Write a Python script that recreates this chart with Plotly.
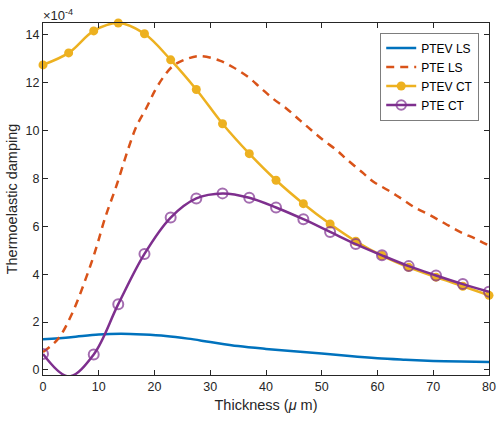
import plotly.graph_objects as go

# ---- data (values in units of 1e-4) ----
ls_x = [0, 5, 10, 14, 18, 22, 26, 30, 35, 40, 45, 50, 55, 60, 65, 70, 75, 80]
ptev_ls = [1.28, 1.37, 1.48, 1.51, 1.48, 1.42, 1.31, 1.17, 1.0, 0.88, 0.78, 0.69, 0.58, 0.49, 0.43, 0.38, 0.35, 0.33]

pte_ls_x = [0, 2.7, 5.2, 7.8, 9.6, 11.1, 13.2, 15.3, 16.8, 18.6, 20.1, 21.6, 23.4, 25.8, 28.2, 31.7, 34.1, 36.8,
            38.9, 41.3, 43.7, 46.1, 48.2, 50.3, 52.7, 54.5, 57.2, 59.2, 61.9, 64.3, 66.7, 69.4, 72.1, 74.8, 77.5, 80]
pte_ls = [0.75, 1.3, 2.35, 3.9, 5.14, 6.33, 7.72, 9.25, 10.2, 10.98, 11.68, 12.24, 12.72, 13.0, 13.12, 12.93, 12.65, 12.24,
          11.82, 11.33, 10.92, 10.43, 10.01, 9.6, 9.18, 8.8, 8.27, 7.88, 7.51, 7.16, 6.79, 6.47, 6.12, 5.77, 5.49, 5.2]

ct_x = [0, 4.6, 9.1, 13.5, 18.2, 22.9, 27.5, 32.2, 37.0, 41.8, 46.7, 51.5, 56.1, 60.8, 65.6, 70.5, 75.3, 80]
ptev_ct = [12.75, 13.25, 14.17, 14.5, 14.05, 12.96, 11.72, 10.29, 9.04, 7.93, 6.95, 6.1, 5.38, 4.78, 4.29, 3.88, 3.5, 3.12]
pte_ct = [0.67, -0.27, 0.65, 2.75, 4.85, 6.37, 7.17, 7.38, 7.2, 6.79, 6.3, 5.77, 5.26, 4.79, 4.34, 3.95, 3.59, 3.27]

x_ticks = [0, 10, 20, 30, 40, 50, 60, 70, 80]
y_ticks = [0, 2, 4, 6, 8, 10, 12, 14]

BLUE = "#0072BD"
ORANGE = "#D95319"
YELLOW = "#EDB120"
PURPLE = "#7E2F8E"
AX = "#262626"
FONT = "Liberation Sans, Arial, Helvetica"

fig = go.Figure()
fig.add_trace(go.Scatter(x=ls_x, y=ptev_ls, mode="lines", name="PTEV LS",
                         line=dict(color=BLUE, width=2.5, shape="spline")))
fig.add_trace(go.Scatter(x=pte_ls_x, y=pte_ls, mode="lines", name="PTE LS",
                         line=dict(color=ORANGE, width=2.5, dash="8px,6px", shape="spline")))
fig.add_trace(go.Scatter(x=ct_x, y=ptev_ct, mode="lines+markers", name="PTEV CT",
                         line=dict(color=YELLOW, width=2.5, shape="spline"),
                         marker=dict(symbol="circle", size=9, color=YELLOW),
                         cliponaxis=False))
psizes = [10 if v > -0.2 else 0 for v in pte_ct]
fig.add_trace(go.Scatter(x=ct_x, y=pte_ct, mode="lines+markers", name="PTE CT",
                         line=dict(color=PURPLE, width=2.5, shape="spline"),
                         marker=dict(symbol="circle-open", size=psizes, color=PURPLE,
                                     line=dict(width=2, color=PURPLE))))

axis_common = dict(showline=True, linecolor=AX, linewidth=1, mirror="allticks",
                   ticks="inside", ticklen=5, tickcolor=AX, tickwidth=1,
                   showgrid=False, zeroline=False, automargin=False,
                   tickfont=dict(family=FONT, size=12.5, color=AX))

fig.update_xaxes(range=[0, 80], tickvals=x_ticks,
                 title=dict(text="Thickness (<i>μ</i> m)", standoff=6,
                            font=dict(family=FONT, size=14.5, color=AX)),
                 **axis_common)
fig.update_yaxes(range=[-0.21, 14.5], tickvals=y_ticks,
                 title=dict(text="Thermoelastic damping", standoff=4,
                            font=dict(family=FONT, size=14.5, color=AX)),
                 **axis_common)

fig.add_annotation(xref="paper", yref="paper", x=0, y=1, xanchor="left", yanchor="bottom",
                   text="×10<sup>-4</sup>", showarrow=False, xshift=-2, yshift=-2,
                   font=dict(family=FONT, size=13, color=AX))

fig.update_layout(
    width=500, height=421,
    margin=dict(l=43, r=11, t=23, b=46),
    paper_bgcolor="white", plot_bgcolor="white",
    showlegend=True,
    legend=dict(x=0.757, y=0.972, xanchor="left", yanchor="top",
                bordercolor=AX, borderwidth=0.6, bgcolor="white",
                font=dict(family=FONT, size=12, color="black"),
                tracegroupgap=0, itemwidth=30),
)

fig.write_html("out.html", config={"displayModeBar": False},
               post_script="document.body.style.margin='0';")
